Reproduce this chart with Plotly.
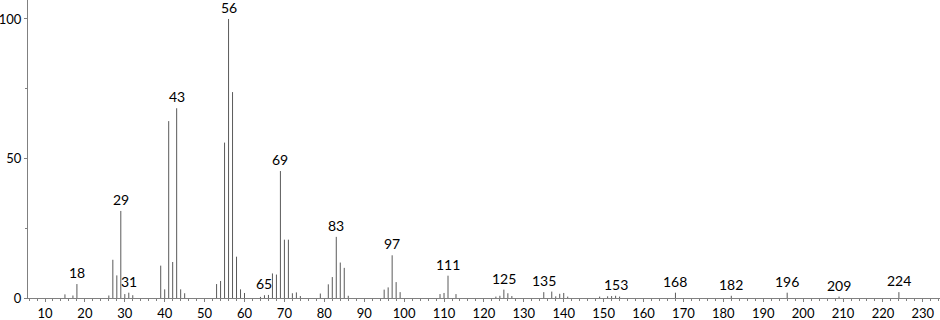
import plotly.graph_objects as go

# m/z and relative intensity of each peak
mz = [15, 17, 18, 26, 27, 28, 29, 30, 31, 32,
      39, 40, 41, 42, 43, 44, 45,
      53, 54, 55, 56, 57, 58, 59, 60,
      64, 65, 66, 67, 68, 69, 70, 71, 72, 73, 74,
      79, 81, 82, 83, 84, 85, 86,
      95, 96, 97, 98, 99,
      109, 110, 111, 113,
      123, 124, 125, 126, 127,
      135, 137, 138, 139, 140, 141,
      149, 151, 152, 153, 154,
      168, 182, 196, 209, 224]
intensity = [1.3, 0.9, 5.0, 0.9, 13.7, 8.1, 31.2, 1.4, 1.9, 1.0,
             11.6, 3.1, 63.4, 12.9, 68.0, 3.1, 1.7,
             5.0, 6.1, 55.7, 100.0, 73.8, 14.8, 3.1, 1.8,
             0.4, 1.0, 1.1, 8.8, 8.4, 45.5, 20.9, 20.9, 1.7, 2.0, 0.7,
             1.6, 4.9, 7.5, 21.9, 12.7, 10.8, 0.8,
             3.0, 3.8, 15.3, 5.7, 2.1,
             1.4, 1.8, 8.0, 1.4,
             0.5, 0.8, 3.0, 1.7, 0.7,
             2.1, 2.3, 0.6, 1.5, 1.8, 0.5,
             0.5, 0.6, 0.7, 0.8, 0.5,
             1.9, 0.8, 1.9, 0.5, 2.1]

# labelled peaks
label_mz = [18, 29, 31, 43, 56, 65, 69, 83, 97, 111,
            125, 135, 153, 168, 182, 196, 209, 224]

x_ticks = list(range(10, 231, 10))
y_ticks = [0, 50, 100]

FONT = "Lato"
AXIS = "#808080"

xs, ys = [], []
for m, v in zip(mz, intensity):
    xs += [m, m, None]
    ys += [0, v, None]

fig = go.Figure()
fig.add_trace(go.Scatter(x=xs, y=ys, mode="lines",
                         line=dict(color="#5a5a5a", width=1),
                         hoverinfo="skip", showlegend=False))

lookup = dict(zip(mz, intensity))
for m in label_mz:
    fig.add_annotation(x=m, y=lookup[m], text=str(m), showarrow=False,
                       xanchor="center", yanchor="bottom", yshift=1,
                       font=dict(family=FONT, size=14, color="#000"))

fig.update_layout(
    width=940, height=320,
    margin=dict(l=28, r=0, t=0, b=22, autoexpand=False),
    paper_bgcolor="white", plot_bgcolor="white",
    xaxis=dict(range=[5.74, 234.3], tickvals=x_ticks,
               ticktext=[str(t) for t in x_ticks],
               showgrid=False, zeroline=False, automargin=False,
               showline=True, linecolor=AXIS, linewidth=1,
               ticks="outside", ticklen=3, tickcolor=AXIS, tickwidth=1,
               minor=dict(dtick=2, tick0=0, ticks="outside", ticklen=2,
                          tickcolor=AXIS, tickwidth=1, showgrid=False),
               tickfont=dict(family=FONT, size=13, color="#000")),
    yaxis=dict(range=[0, 106.8], tickvals=y_ticks,
               ticktext=[str(t) for t in y_ticks],
               showgrid=False, zeroline=False, automargin=False,
               showline=True, linecolor=AXIS, linewidth=1,
               ticks="outside", ticklen=3, tickcolor=AXIS, tickwidth=1,
               minor=dict(dtick=25, ticks="outside", ticklen=2,
                          tickcolor=AXIS, tickwidth=1, showgrid=False),
               tickfont=dict(family=FONT, size=13, color="#000")),
)

fig.write_html("out.html")
